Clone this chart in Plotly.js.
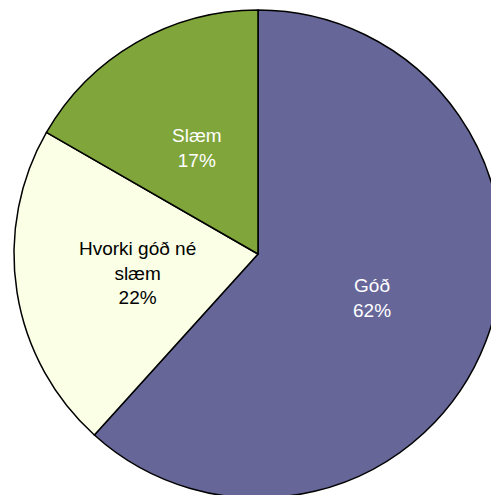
<!DOCTYPE html>
<html>
<head>
<meta charset="utf-8">
<script src="https://cdn.plot.ly/plotly-3.0.1.min.js"></script>
<style>
html,body{margin:0;padding:0;overflow:hidden;background:#fff;}
#chart{width:505px;height:505px;}
</style>
</head>
<body>
<div id="chart"></div>
<script>
const categories = ["Góð", "Hvorki góð né slæm", "Slæm"];
const labelText = ["Góð", "Hvorki góð né<br>slæm", "Slæm"];
const values = [61.7, 21.6, 16.7];
const shownPercent = ["62%", "22%", "17%"];
const colors = ["#666699", "#FAFFE6", "#7FA53B"];
const textColors = ["#ffffff", "#000000", "#ffffff"];

const FONT = "Liberation Sans Narrow, Arial Narrow, Liberation Sans, Arial, sans-serif";

const trace = {
  type: "pie",
  labels: categories,
  values: values,
  textinfo: "none",
  hoverinfo: "none",
  sort: false,
  direction: "clockwise",
  rotation: 0,
  marker: {colors: colors, line: {color: "#000000", width: 1.5}},
  domain: {x: [0, 1], y: [0, 1]}
};

// label positions derived from the slice mid-angles (clockwise from 12 o'clock)
const total = values.reduce((a, b) => a + b, 0);
let cum = 0;
const annotations = values.map((v, i) => {
  const mid = (cum + v / 2) / total * 2 * Math.PI;
  cum += v;
  const f = 0.5;
  return {
    xref: "paper", yref: "paper",
    x: 0.5 + 0.5 * f * Math.sin(mid),
    y: 0.5 + 0.5 * f * Math.cos(mid),
    xanchor: "center", yanchor: "middle",
    showarrow: false,
    align: "center",
    text: labelText[i] + "<br>" + shownPercent[i],
    font: {family: FONT, size: 19, color: textColors[i]}
  };
});

Plotly.newPlot("chart", [trace], {
  width: 505,
  height: 505,
  margin: {l: 14, r: 3, t: 10, b: 7},
  showlegend: false,
  paper_bgcolor: "#ffffff",
  annotations: annotations
}, {staticPlot: true, displayModeBar: false});
</script>
</body>
</html>
